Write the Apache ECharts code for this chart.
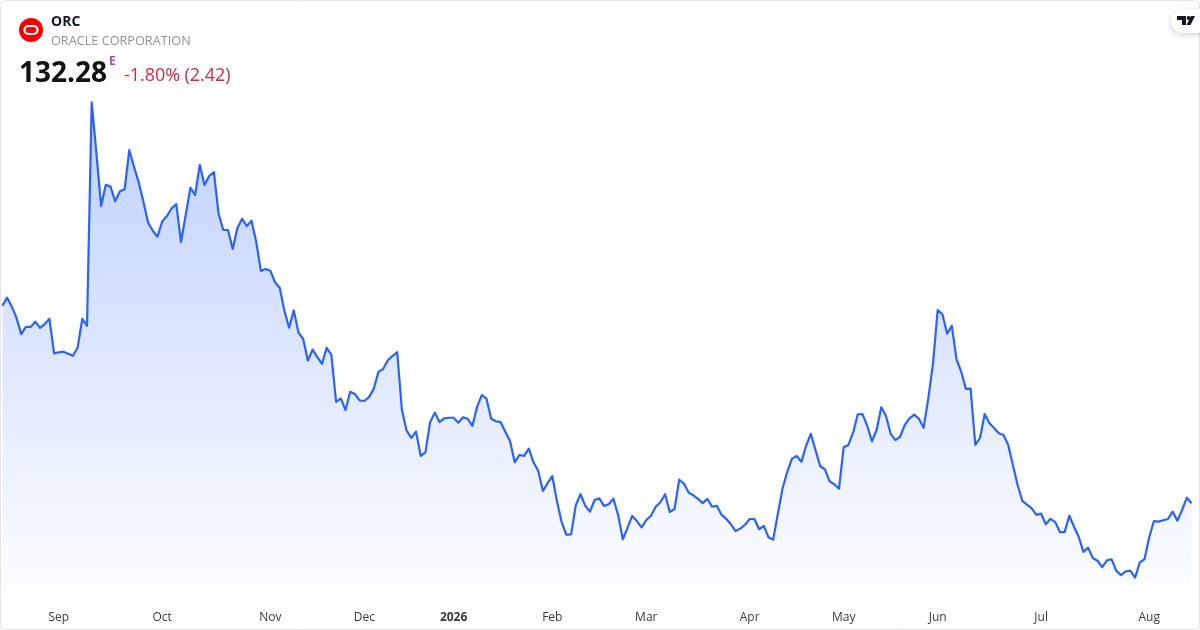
<!DOCTYPE html>
<html>
<head>
<meta charset="utf-8">
<style>html,body{margin:0;padding:0;background:#fff}#c{width:1200px;height:630px}</style>
<script src="https://cdn.jsdelivr.net/npm/echarts@6/dist/echarts.min.js"></script>
</head>
<body>
<div id="c"></div>
<script>
const closes = [
228.9,232.8,228.4,222.9,215.0,218.6,218.5,221.1,218.0,219.9,222.5,205.6,206.1,206.4,205.4,204.4,208.3,222.5,219.0,328.3,
303.5,277.6,288.0,287.1,279.9,284.8,285.8,304.9,296.8,289.2,279.7,269.5,265.5,262.6,270.1,272.7,276.5,278.5,260.0,273.2,
286.6,283.0,297.7,287.9,292.3,294.2,273.7,265.9,265.9,256.6,266.9,271.4,267.8,270.4,260.2,245.8,246.8,246.0,240.3,237.7,
226.4,218.1,226.6,215.7,212.6,202.0,207.4,203.7,200.5,208.3,204.8,181.8,183.6,177.9,186.8,185.7,182.6,182.3,184.2,188.2,
196.5,197.9,202.2,204.3,206.2,177.9,167.8,164.3,167.3,155.5,157.2,171.9,176.6,172.0,173.8,174.1,174.1,171.7,174.3,173.6,
170.1,179.5,185.2,183.4,173.6,172.4,172.0,167.3,162.7,152.3,155.9,155.5,159.0,152.3,148.2,138.3,142.1,145.6,133.1,123.0,
116.9,117.1,131.4,136.7,131.1,128.2,133.9,134.7,131.0,131.8,134.5,126.6,114.7,120.3,126.1,123.6,120.5,124.1,126.2,130.6,
132.8,136.7,128.0,129.5,143.8,141.9,137.5,136.2,134.4,132.4,134.4,130.6,131.1,126.7,124.7,122.0,118.7,119.9,121.8,124.6,
124.6,119.6,121.2,115.7,114.5,127.4,139.6,147.7,154.1,155.4,152.5,160.4,166.2,158.3,150.4,148.9,143.0,141.6,139.4,159.7,
160.8,166.8,175.8,175.9,170.2,162.6,168.1,179.2,175.0,166.2,163.2,164.8,170.6,173.8,175.6,173.6,169.2,183.6,200.7,226.8,
224.7,215.2,219.1,202.7,196.6,188.2,188.3,160.8,164.2,175.9,171.4,169.1,166.5,165.7,160.8,151.0,141.2,133.5,131.6,129.8,
126.6,127.2,122.0,124.7,123.1,118.2,118.2,126.2,120.8,115.9,108.5,110.6,105.5,104.2,101.1,104.4,104.9,99.2,97.2,99.0,
99.3,95.9,103.4,104.9,115.7,123.6,123.3,124.0,124.6,128.2,123.8,129.0,135.0,132.28
];
const tickLabels = ['Sep','Oct','Nov','Dec','2026','Feb','Mar','Apr','May','Jun','Jul','Aug'];
const tickIndexes = [12,34,57,77,96,117,137,159,179,199,221,244];
const symbol = 'ORC';
const company = 'ORACLE CORPORATION';
const lastPrice = '132.28';
const change = '-1.80% (2.42)';

const categories = closes.map((_, i) => {
  const k = tickIndexes.indexOf(i);
  return k >= 0 ? tickLabels[k] : 'd' + i;
});

const FONT = '"Open Sans","Noto Sans",sans-serif';
const chart = echarts.init(document.getElementById('c'), null, {renderer: 'canvas'});
chart.setOption({
  animation: false,
  backgroundColor: '#ffffff',
  grid: {left: 2.4, right: 8.5, top: 60, bottom: 30},
  xAxis: {
    type: 'category',
    data: categories,
    boundaryGap: false,
    axisLine: {show: false},
    axisTick: {show: false},
    splitLine: {show: false},
    axisLabel: {
      interval: (i) => tickIndexes.includes(i),
      margin: 12,
      hideOverlap: false,
      fontFamily: FONT, fontSize: 12, color: '#363a45',
      formatter: (v) => /^\d{4}$/.test(v) ? '{b|' + v + '}' : v,
      rich: {b: {fontFamily: FONT, fontSize: 12, fontWeight: 'bold', color: '#363a45'}}
    }
  },
  yAxis: {type: 'value', min: 85, max: 349, show: false},
  series: [{
    type: 'line',
    data: closes,
    symbol: 'none',
    smooth: false,
    lineStyle: {color: '#2962ff', width: 2.2, join: 'round'},
    areaStyle: {
      opacity: 1,
      color: {
        type: 'linear', x: 0, y: 102, x2: 0, y2: 612, global: true,
        colorStops: [
          {offset: 0, color: 'rgba(41,98,255,0.30)'},
          {offset: 1, color: 'rgba(41,98,255,0)'}
        ]
      }
    }
  }],
  graphic: [
    {type: 'rect', silent: true, shape: {x: 0.5, y: 0.5, width: 1199, height: 629, r: 4},
      style: {fill: 'none', stroke: '#e6e6e6', lineWidth: 1}, z: 10},
    {type: 'circle', shape: {cx: 31, cy: 30, r: 12}, style: {fill: '#f80000'}, z: 11},
    {type: 'rect', shape: {x: 24.5, y: 26, width: 13, height: 8, r: 4},
      style: {fill: 'none', stroke: '#ffffff', lineWidth: 2.2}, z: 12},
    {type: 'text', x: 51, y: 22, z: 11, style: {text: symbol, font: 'bold 14px ' + FONT, fill: '#131722', textVerticalAlign: 'middle'}},
    {type: 'text', x: 51, y: 41, z: 11, style: {text: company, font: '12.7px ' + FONT, fill: '#8f929b', textVerticalAlign: 'middle'}},
    {type: 'text', x: 19, y: 74, z: 11, style: {text: lastPrice, font: 'bold 28px ' + FONT, fill: '#131313', textVerticalAlign: 'middle'}},
    {type: 'text', x: 109, y: 62, z: 11, style: {text: 'E', font: 'bold 12px ' + FONT, fill: '#ab47bc', textVerticalAlign: 'middle'}},
    {type: 'text', x: 124, y: 76, z: 11, style: {text: change, font: '17.9px ' + FONT, fill: '#d1293d', textVerticalAlign: 'middle'}},
    {type: 'rect', shape: {x: 1171, y: 9, width: 40, height: 24, r: 12},
      style: {fill: '#ffffff', shadowBlur: 6, shadowColor: 'rgba(0,0,0,0.18)', shadowOffsetY: 2}, z: 11},
    {type: 'polygon', z: 12, shape: {points: [[1177,16],[1186,16],[1186,25],[1182,25],[1182,20],[1177,20]]}, style: {fill: '#131722'}},
    {type: 'circle', z: 12, shape: {cx: 1188.6, cy: 18, r: 2}, style: {fill: '#131722'}},
    {type: 'polygon', z: 12, shape: {points: [[1191,16],[1195,16],[1190.5,25],[1186.5,25]]}, style: {fill: '#131722'}}
  ]
});
</script>
</body>
</html>
